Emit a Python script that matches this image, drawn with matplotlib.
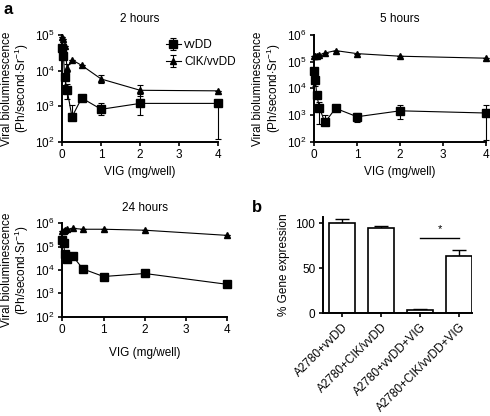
import numpy as np
import matplotlib
matplotlib.use("Agg")
import matplotlib.pyplot as plt

plt.rcParams['font.family'] = ['Liberation Sans', 'DejaVu Sans']
plt.rcParams['mathtext.fontset'] = 'custom'
plt.rcParams['mathtext.rm'] = 'Liberation Sans'
plt.rcParams['mathtext.it'] = 'Liberation Sans:italic'
plt.rcParams['mathtext.bf'] = 'Liberation Sans:bold'
plt.rcParams['font.size'] = 8.5

# VIG dose (mg/well)
vig = [0, 0.03125, 0.0625, 0.125, 0.25, 0.5, 1, 2, 4]

# 2 hours
vv_2h = [4.4e4, 2.6e4, 6.5e3, 2.9e3, 5.0e2, 1.7e3, 8.2e2, 1.2e3, 1.2e3]
vv_2h_lo = [0, 0, 2.5e3, 1.3e3, 0, 0, 2.4e2, 6.5e2, 1.08e3]
vv_2h_hi = [0, 0, 1.5e3, 1.2e3, 6.0e2, 0, 4.0e2, 1.0e3, 0]
cik_2h = [9.0e4, 7.5e4, 5.0e4, 1.2e4, 2.0e4, 1.4e4, 5.8e3, 2.8e3, 2.7e3]
cik_2h_lo = [0, 0, 0, 3.0e3, 0, 0, 1.3e3, 0.9e3, 0]
cik_2h_hi = [0, 0, 0, 3.0e3, 0, 0, 1.7e3, 1.2e3, 0]

# 5 hours
vv_5h = [4.3e4, 2.0e4, 5.5e3, 1.9e3, 5.3e2, 1.8e3, 8.7e2, 1.45e3, 1.2e3]
vv_5h_lo = [0, 8.0e3, 0, 1.45e3, 0, 0, 3.2e2, 7.5e2, 1.08e3]
vv_5h_hi = [0, 0, 0, 1.3e3, 4.7e2, 0, 3.8e2, 9.5e2, 1.1e3]
cik_5h = [1.6e5, 1.6e5, 1.7e5, 1.8e5, 2.1e5, 2.6e5, 2.0e5, 1.6e5, 1.35e5]

# 24 hours
vv_24h = [2.0e5, 1.45e5, 5.0e4, 2.8e4, 4.0e4, 1.1e4, 5.2e3, 7.0e3, 2.4e3]
vv_24h_lo = [0, 0, 0, 0, 0, 0, 0, 0, 4.0e2]
vv_24h_hi = [0, 0, 0, 0, 0, 0, 0, 0, 4.0e2]
cik_24h = [4.5e5, 4.5e5, 5.0e5, 5.5e5, 6.0e5, 5.5e5, 5.5e5, 5.0e5, 3.0e5]

# gene expression
groups = ['A2780+vvDD', 'A2780+CIK/vvDD', 'A2780+vvDD+VIG', 'A2780+CIK/vvDD+VIG']
expr = [100, 95, 4, 63]
expr_err = [5, 2, 1, 7]

fig = plt.figure(figsize=(4.9, 4.16), dpi=100)

ylab = 'Viral bioluminescence\n(Ph/second$\\cdot$Sr$^{-1}$)'
fs = 8.5


def curve_panel(rect, title, vv, vv_lo, vv_hi, cik, cik_lo, cik_hi, top_exp, labpad):
    ax = fig.add_axes(rect)
    ax.errorbar(vig, vv, yerr=[vv_lo, vv_hi], fmt='s-', color='black', ms=5.5,
                lw=0.8, elinewidth=0.8, capsize=2.5, capthick=0.8, clip_on=False,
                label='vvDD', zorder=3)
    ax.errorbar(vig, cik, yerr=[cik_lo, cik_hi], fmt='^-', color='black', ms=5,
                lw=0.8, elinewidth=0.8, capsize=2.5, capthick=0.8, clip_on=False,
                label='CIK/vvDD', zorder=3)
    ax.set_yscale('log')
    ax.set_ylim(1e2, 10.0 ** top_exp)
    exps = list(range(2, top_exp + 1))
    ax.set_yticks([10.0 ** e for e in exps])
    ax.set_yticklabels(['$10^{%d}$' % e for e in exps])
    ax.set_xlim(0, 4)
    ax.set_xticks([0, 1, 2, 3, 4])
    ax.minorticks_off()
    for s in ['top', 'right']:
        ax.spines[s].set_visible(False)
    for s in ['left', 'bottom']:
        ax.spines[s].set_linewidth(1.4)
    ax.tick_params(width=1.2, length=3, labelsize=fs, pad=2.5)
    ax.set_title(title, fontsize=fs, pad=9)
    ax.set_xlabel('VIG (mg/well)', fontsize=fs, labelpad=labpad)
    ax.set_ylabel(ylab, fontsize=fs, linespacing=1.0, labelpad=3)
    return ax


ax1 = curve_panel([0.127, 0.659, 0.318, 0.257], '2 hours',
                  vv_2h, vv_2h_lo, vv_2h_hi, cik_2h, cik_2h_lo, cik_2h_hi, 5, 3)
leg = ax1.legend(loc='upper left', bbox_to_anchor=(0.6, 1.06), frameon=False,
                 handlelength=1.2, handletextpad=0.3, labelspacing=0.45, fontsize=fs)

ax2 = curve_panel([0.641, 0.659, 0.351, 0.257], '5 hours',
                  vv_5h, vv_5h_lo, vv_5h_hi, cik_5h, [0] * 9, [0] * 9, 6, 3)

ax3 = curve_panel([0.127, 0.239, 0.337, 0.2245], '24 hours',
                  vv_24h, vv_24h_lo, vv_24h_hi, cik_24h, [0] * 9, [0] * 9, 6, 8)

# bar chart
ax4 = fig.add_axes([0.659, 0.247, 0.304, 0.232])
pos = np.arange(len(groups))
ax4.bar(pos, expr, width=0.67, color='white', edgecolor='black', linewidth=1.2, zorder=2)
ax4.errorbar(pos, expr, yerr=[[0] * 4, expr_err], fmt='none', ecolor='black',
             elinewidth=1.0, capsize=5, capthick=1.0, zorder=1)
ax4.set_xlim(-0.5, 3.33)
ax4.set_ylim(0, 107)
ax4.set_yticks([0, 50, 100])
ax4.set_xticks(pos)
ax4.set_xticklabels(groups, rotation=45, ha='right', rotation_mode='anchor')
ax4.set_ylabel('% Gene expression', fontsize=fs)
for s in ['top', 'right']:
    ax4.spines[s].set_visible(False)
for s in ['left', 'bottom']:
    ax4.spines[s].set_linewidth(1.4)
ax4.tick_params(width=1.2, length=3, labelsize=fs, pad=2.5)
ax4.plot([2, 3], [83.5, 83.5], color='black', lw=1.0)
ax4.text(2.5, 88, '*', ha='center', va='bottom', fontsize=8)

fig.text(0.008, 0.995, 'a', fontsize=12, fontweight='bold', va='top')
fig.text(0.514, 0.52, 'b', fontsize=12, fontweight='bold', va='top')

fig.savefig('out.png', dpi=100)
